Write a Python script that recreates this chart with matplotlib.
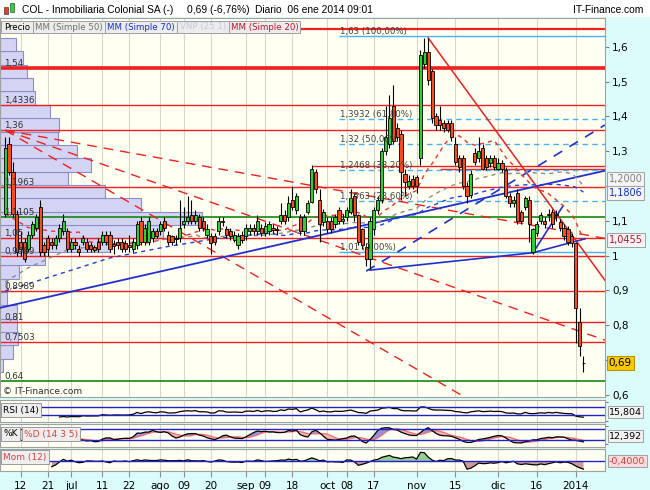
import numpy as np
import pandas as pd
import matplotlib
matplotlib.use("Agg")
import matplotlib.pyplot as plt
from matplotlib.patches import Rectangle
from matplotlib.transforms import blended_transform_factory

plt.rcParams['font.family'] = ['DejaVu Sans']

W, H = 650, 490

# trading days shown (BME closed 25-26 dic and 1 ene)
holidays = ["2013-12-25", "2013-12-26", "2014-01-01"]
dates = pd.bdate_range("2013-06-06", "2014-01-06")
dates = dates[~dates.isin(pd.to_datetime(holidays))]

opens = [1.12, 1.32, 1.24, 1.12, 1.04, 1.04, 1.02, 1.06, 1.08, 1.14,
         1.03, 1.05, 1.04, 1.03, 1.05, 1.07, 1.07, 1.02, 1.04, 1.02,
         1.04, 1.04, 1.03, 1.025, 1.04, 1.04, 1.06, 1.06, 1.032, 1.04,
         1.04, 1.035, 1.03, 1.02, 1.03, 1.10, 1.04, 1.04, 1.05, 1.07,
         1.07, 1.10, 1.06, 1.055, 1.05, 1.05, 1.09, 1.10, 1.115, 1.10,
         1.11, 1.10, 1.06, 1.055, 1.055, 1.07, 1.10, 1.075, 1.07, 1.045,
         1.03, 1.06, 1.055, 1.07, 1.08, 1.07, 1.08, 1.065, 1.07, 1.08,
         1.073, 1.10, 1.115, 1.11, 1.16, 1.13, 1.11, 1.07, 1.125, 1.155,
         1.24, 1.16, 1.095, 1.10, 1.10, 1.09, 1.13, 1.10, 1.11, 1.125,
         1.17, 1.115, 1.075, 1.025, 0.99, 1.075, 1.13, 1.16, 1.30, 1.32,
         1.43, 1.365, 1.35, 1.235, 1.20, 1.22, 1.225, 1.28, 1.55, 1.585,
         1.53, 1.40, 1.39, 1.38, 1.38, 1.38, 1.32, 1.28, 1.28, 1.20,
         1.175, 1.295, 1.28, 1.31, 1.28, 1.265, 1.28, 1.25, 1.265, 1.245,
         1.17, 1.15, 1.18, 1.125, 1.14, 1.16, 1.01, 1.065, 1.10, 1.10,
         1.115, 1.125, 1.12, 1.095, 1.08, 1.075, 1.055, 1.035, 0.81, 0.69]
highs = [1.34, 1.34, 1.27, 1.13, 1.07, 1.05, 1.07, 1.10, 1.12, 1.16,
         1.04, 1.06, 1.05, 1.06, 1.09, 1.12, 1.08, 1.05, 1.05, 1.03,
         1.06, 1.05, 1.04, 1.03, 1.05, 1.07, 1.07, 1.07, 1.045, 1.05,
         1.05, 1.045, 1.06, 1.05, 1.10, 1.11, 1.09, 1.11, 1.08, 1.08,
         1.10, 1.11, 1.07, 1.06, 1.06, 1.16, 1.14, 1.17, 1.16, 1.13,
         1.12, 1.11, 1.09, 1.065, 1.065, 1.11, 1.11, 1.085, 1.08, 1.07,
         1.065, 1.07, 1.09, 1.09, 1.09, 1.115, 1.09, 1.095, 1.10, 1.09,
         1.085, 1.15, 1.13, 1.17, 1.20, 1.18, 1.12, 1.12, 1.16, 1.26,
         1.25, 1.19, 1.135, 1.11, 1.11, 1.12, 1.14, 1.12, 1.14, 1.19,
         1.18, 1.12, 1.08, 1.035, 1.11, 1.14, 1.17, 1.31, 1.43, 1.46,
         1.49, 1.38, 1.36, 1.25, 1.23, 1.23, 1.23, 1.59, 1.625, 1.625,
         1.535, 1.41, 1.43, 1.39, 1.39, 1.39, 1.34, 1.29, 1.29, 1.21,
         1.245, 1.31, 1.34, 1.32, 1.29, 1.29, 1.29, 1.28, 1.275, 1.255,
         1.18, 1.17, 1.19, 1.13, 1.17, 1.17, 1.08, 1.10, 1.125, 1.11,
         1.135, 1.135, 1.13, 1.105, 1.09, 1.085, 1.065, 1.04, 0.85, 0.71]
lows = [1.11, 1.23, 1.11, 1.00, 1.00, 0.98, 1.01, 1.05, 1.07, 1.00,
        1.00, 1.00, 1.02, 1.02, 1.04, 1.06, 1.01, 1.01, 1.02, 1.00,
        1.03, 1.01, 1.01, 1.01, 1.01, 1.03, 1.03, 1.01, 1.005, 1.02,
        1.01, 1.01, 1.01, 1.01, 1.02, 1.03, 1.03, 1.03, 1.04, 1.05,
        1.06, 1.07, 1.03, 1.03, 1.03, 1.04, 1.08, 1.09, 1.09, 1.09,
        1.07, 1.07, 1.05, 1.005, 1.03, 1.06, 1.085, 1.05, 1.045, 1.04,
        1.02, 1.035, 1.045, 1.06, 1.06, 1.06, 1.055, 1.055, 1.06, 1.065,
        1.06, 1.09, 1.09, 1.10, 1.13, 1.12, 1.06, 1.06, 1.12, 1.15,
        1.18, 1.04, 1.085, 1.065, 1.065, 1.08, 1.09, 1.09, 1.10, 1.12,
        1.10, 1.03, 1.02, 0.97, 0.96, 1.06, 1.12, 1.15, 1.29, 1.31,
        1.32, 1.33, 1.16, 1.17, 1.19, 1.19, 1.18, 1.26, 1.54, 1.49,
        1.38, 1.36, 1.36, 1.355, 1.355, 1.33, 1.26, 1.24, 1.19, 1.15,
        1.165, 1.26, 1.27, 1.245, 1.245, 1.255, 1.245, 1.245, 1.24, 1.165,
        1.14, 1.14, 1.09, 1.09, 1.13, 1.04, 1.005, 1.055, 1.09, 1.08,
        1.10, 1.08, 1.10, 1.07, 1.045, 1.03, 1.025, 0.75, 0.71, 0.665]
closes = [1.31, 1.24, 1.12, 1.01, 1.02, 0.99, 1.06, 1.09, 1.11, 1.01,
          1.01, 1.02, 1.03, 1.05, 1.08, 1.10, 1.02, 1.04, 1.03, 1.01,
          1.05, 1.02, 1.02, 1.015, 1.02, 1.06, 1.04, 1.02, 1.028, 1.03,
          1.02, 1.02, 1.025, 1.04, 1.09, 1.04, 1.08, 1.10, 1.07, 1.055,
          1.09, 1.08, 1.04, 1.04, 1.048, 1.08, 1.10, 1.11, 1.10, 1.115,
          1.08, 1.08, 1.075, 1.035, 1.04, 1.10, 1.095, 1.06, 1.055, 1.06,
          1.055, 1.045, 1.08, 1.08, 1.07, 1.10, 1.065, 1.085, 1.09, 1.073,
          1.075, 1.115, 1.10, 1.15, 1.14, 1.17, 1.07, 1.11, 1.15, 1.25,
          1.19, 1.09, 1.125, 1.075, 1.075, 1.11, 1.10, 1.105, 1.13, 1.165,
          1.115, 1.04, 1.03, 0.99, 1.10, 1.13, 1.16, 1.30, 1.34, 1.395,
          1.33, 1.34, 1.24, 1.21, 1.215, 1.20, 1.20, 1.575, 1.585, 1.505,
          1.395, 1.375, 1.375, 1.365, 1.36, 1.34, 1.27, 1.255, 1.20, 1.17,
          1.235, 1.27, 1.30, 1.25, 1.255, 1.28, 1.255, 1.265, 1.25, 1.17,
          1.15, 1.16, 1.10, 1.10, 1.165, 1.09, 1.075, 1.09, 1.115, 1.09,
          1.12, 1.09, 1.115, 1.08, 1.055, 1.04, 1.035, 0.85, 0.74, 0.69]

# moving averages: start of the lines (history before the window)
ma20_lead_x = [0, 6, 12, 18]
ma20_lead = [1.12, 1.08, 1.07, 1.066]
ma50_lead_x = [0, 6, 16, 27, 40, 48]
ma50_lead = [0.924, 0.965, 1.016, 1.033, 1.045, 1.055]
ma70_lead_x = [0, 10, 27, 41, 55, 68]
ma70_lead = [0.898, 0.933, 0.993, 1.024, 1.050, 1.064]
ma_last_labels = [1.2000, 1.1806, 1.0455]

# volume at price (VNP 25 1), relative volume per bin from bottom to top
vnp_volume = [3.3, 13.3, 18.3, 17.3, 16.7, 7.3, 7.3, 19.3, 45, 110, 163, 202,
              141, 105, 68, 91, 77, 58, 59, 50, 35, 33, 27, 23, 16]

red_levels = [1.65, 1.54, 1.4336, 1.36, 1.1963, 1.05, 0.9989, 0.8989, 0.81, 0.7503]
green_levels = [1.1105, 0.64]
labeled_levels = [1.54, 1.4336, 1.36, 1.1963, 1.1105, 1.05, 0.9989, 0.8989, 0.81, 0.7503, 0.64]
partial_levels = [1.2578, 1.249]
partial_start = [79, 112]

fib_prices = [1.63, 1.3932, 1.32, 1.2468, 1.1563, 1.01]
fib_pcts = [100.0, 61.8, 50.0, 38.2, 23.6, 0.0]
fib_start = 86

# trend lines, anchors as (bar, price)
red_trend = [(109, 1.625), (140.4, 1.145)]
fan_origin = (0, 1.36)
fan_through = [(84.5, 1.19), (154.5, 0.757), (117.2, 0.601)]
blue_channel = [(0, 0.853), (140, 1.207)]
blue_dashed = [(93, 0.955), (154.5, 1.375)]
blue_base = [(94, 0.958), (136, 1.008), (149.4, 1.048)]
blue_steep = [(136, 1.008), (143.7, 1.142)]

tick_dates = ["2013-06-12", "2013-06-21", "2013-07-01", "2013-07-11", "2013-07-22",
              "2013-08-01", "2013-08-09", "2013-08-20", "2013-09-02", "2013-09-09",
              "2013-09-18", "2013-10-01", "2013-10-08", "2013-10-17", "2013-11-01",
              "2013-11-15", "2013-12-02", "2013-12-16", "2014-01-02"]
tick_labels = ["12", "21", "jul", "11", "22", "ago", "09", "20", "sep", "09",
               "18", "oct", "08", "17", "nov", "15", "dic", "16", "2014"]

panel_values = ["15,804", "12,392", "-0,4000"]


def es(v):
    return f"{v:.4f}".rstrip('0').rstrip('.').replace('.', ',')


def box(x0, y0, x1, y1):
    return [x0 / W, 1 - y1 / H, (x1 - x0) / W, (y1 - y0) / H]


x = np.arange(len(dates))
o, h, l, c = (np.array(a) for a in (opens, highs, lows, closes))
cs = pd.Series(closes)

# indicators
delta = cs.diff()
gain = delta.clip(lower=0).ewm(alpha=1 / 14, adjust=False, min_periods=14).mean()
loss = (-delta.clip(upper=0)).ewm(alpha=1 / 14, adjust=False, min_periods=14).mean()
rsi = 100 - 100 / (1 + gain / loss)
ll = pd.Series(lows).rolling(14).min()
hh = pd.Series(highs).rolling(14).max()
k = (100 * (cs - ll) / (hh - ll)).rolling(3).mean()
d = k.rolling(5).mean()
mom = cs - cs.shift(12)

xmin, xmax = -1.33, 154.55
bg = '#fffff2'
fig = plt.figure(figsize=(6.5, 4.9), dpi=100, facecolor='#dcfcfc')
fig.patches.append(Rectangle((0, 1 - 17 / H), 1, 17 / H, transform=fig.transFigure,
                             facecolor='white', edgecolor='none', zorder=0))

ax = fig.add_axes(box(0, 18, 605, 397))
ax_rsi = fig.add_axes(box(0, 400, 605, 422), sharex=ax)
ax_sto = fig.add_axes(box(0, 424, 605, 447), sharex=ax)
ax_mom = fig.add_axes(box(0, 449, 605, 471), sharex=ax)

tick_pos = [dates.get_loc(pd.Timestamp(t)) for t in tick_dates]
for a in (ax, ax_rsi, ax_sto, ax_mom):
    a.set_facecolor(bg)
    for s in a.spines.values():
        s.set_color('#a0a0a0')
        s.set_linewidth(0.8)
    a.set_axisbelow(True)
    a.grid(axis='x', color='#d8d8c6', lw=0.8)
    a.tick_params(axis='x', labelbottom=False, length=0)
    a.yaxis.tick_right()
ax.set_xlim(xmin, xmax)
ax.set_xticks(tick_pos)

# ---- main price panel
ax.set_ylim(0.5934, 1.6825)
yt = np.round(np.arange(0.6, 1.61, 0.1), 1)
ax.set_yticks(yt)
# 0,7 and 1,2 sit behind the value boxes on the original
ax.set_yticklabels(['' if v in (0.7, 1.2) else f"{v:g}".replace('.', ',') for v in yt])
ax.tick_params(axis='y', labelsize=7.5, length=3, color='#808080', pad=2)

vt = blended_transform_factory(ax.transAxes, ax.transData)
edges = np.linspace(min(lows), max(highs), len(vnp_volume) + 1)
vscale = (202.3 / 605) / max(vnp_volume)
ax.barh(edges[:-1], np.array(vnp_volume) * vscale, height=np.diff(edges), align='edge',
        left=0, transform=vt, color='#d3d3f3', edgecolor='#8c8cca', lw=0.8, zorder=1)

for v in red_levels:
    ax.axhline(v, color='#ee2020', lw=2.6 if v == 1.54 else (1.6 if v == 1.65 else 1.0), zorder=2)
for v in green_levels:
    ax.axhline(v, color='#108a10', lw=1.2, zorder=2)
for v, s in zip(partial_levels, partial_start):
    ax.hlines(v, s, xmax, color='#ee2020', lw=1.0, zorder=2)
for v in labeled_levels:
    ax.text(4 / 605, v, es(v), transform=vt, fontsize=6.3, color='#303030',
            va='bottom', ha='left', zorder=6)

for p, pct in zip(fib_prices, fib_pcts):
    ls = '-' if pct in (0.0, 100.0) else (0, (4, 3))
    ax.hlines(p, fib_start, xmax, color='#46b2f0', lw=1.0, linestyles=ls, zorder=2)
    ax.text(fib_start + 0.3, p, f"{es(p)} ({pct:.2f}%)".replace('.', ','), fontsize=6.2,
            color='#404040', va='bottom', ha='left', zorder=6)


def extend(p0, p1, x_end):
    slope = (p1[1] - p0[1]) / (p1[0] - p0[0])
    return [p0[0], x_end], [p0[1], p0[1] + slope * (x_end - p0[0])]


ax.plot(*extend(red_trend[0], red_trend[1], xmax), color='#f02020', lw=1.1, zorder=3)
for p1 in fan_through:
    ax.plot(*extend(fan_origin, p1, xmax), color='#f02020', lw=1.0,
            linestyle=(0, (7, 5)), zorder=3)
bx, by = extend(blue_channel[0], blue_channel[1], xmax)
bx0, by0 = extend(blue_channel[1], blue_channel[0], xmin)
ax.plot([bx0[1], bx[1]], [by0[1], by[1]], color='#2030d0', lw=1.3, zorder=3)
ax.plot([p[0] for p in blue_dashed], [p[1] for p in blue_dashed], color='#2030d0',
        lw=1.2, linestyle=(0, (6, 5)), zorder=3)
ax.plot([p[0] for p in blue_base], [p[1] for p in blue_base], color='#2030d0', lw=1.2, zorder=3)
ax.plot([p[0] for p in blue_steep], [p[1] for p in blue_steep], color='#2030d0', lw=1.2, zorder=3)

# moving averages
for lead_x, lead, n, col in [(ma20_lead_x, ma20_lead, 20, '#f03030'),
                             (ma50_lead_x, ma50_lead, 50, '#8c8c8c'),
                             (ma70_lead_x, ma70_lead, 70, '#2040e0')]:
    sma = cs.rolling(n).mean()
    mx = np.concatenate([lead_x, x[n - 1:]])
    my = np.concatenate([lead, sma.values[n - 1:]])
    ax.plot(mx, my, color=col, lw=1.0, linestyle=(0, (3, 3)), zorder=3)

# candles
body_lo = np.minimum(o, c)
body_h = np.abs(c - o)
colors = np.where(c >= o, '#2bd22b', '#fa4b1a')
ax.vlines(x, l, h, color='black', lw=0.8, zorder=4)
ax.bar(x, body_h, bottom=body_lo, width=0.82, color=colors, edgecolor='black',
       linewidth=0.6, zorder=5)

ax.text(3 / 605, (397 - 391) / 379, "\u00a9 IT-Finance.com", transform=ax.transAxes,
        fontsize=6.5, color='#303030', va='center', ha='left')

# value boxes on the price scale
for v, tc, dy in zip(ma_last_labels, ['#808080', '#1030d0', '#c8102e'], [0.02, 0, 0]):
    ax.text(1.006, v + dy, f"{v:.4f}".replace('.', ','), transform=vt, fontsize=7, color=tc,
            va='center', ha='left', clip_on=False, zorder=10,
            bbox=dict(boxstyle='square,pad=0.2', fc='#f4f4f4', ec='#a0a0a0', lw=0.7))
ax.text(1.006, closes[-1], es(closes[-1]), transform=vt, fontsize=7.5, color='black',
        va='center', ha='left', clip_on=False, zorder=10,
        bbox=dict(boxstyle='square,pad=0.2', fc='#f8c800', ec='#b09000', lw=0.7))

# ---- RSI
ax_rsi.set_ylim(-6, 108)
ax_rsi.plot(x, rsi, color='black', lw=0.9)
for v in (70, 30):
    ax_rsi.axhline(v, color='#2020cc', lw=1.0)
# ---- Stochastic
ax_sto.set_ylim(-16, 109)
ax_sto.fill_between(x, k, d, where=(k >= d), color='#9494dc', interpolate=True, lw=0)
ax_sto.fill_between(x, k, d, where=(k < d), color='#f4b4b4', interpolate=True, lw=0)
ax_sto.plot(x, d, color='#ff6a6a', lw=0.9)
ax_sto.plot(x, k, color='black', lw=0.9)
for v in (80, 20):
    ax_sto.axhline(v, color='#2020cc', lw=1.0)
for a in (ax_rsi, ax_sto):
    # the 0 / 100 scale marks are hidden behind the value boxes on the original
    a.set_yticks([0, 100])
    a.tick_params(axis='y', labelright=False, length=2, color='#808080')
# ---- Momentum
ax_mom.set_ylim(-0.495, 0.61)
ax_mom.fill_between(x, mom, 0, where=(mom >= 0), color='#96cc96', interpolate=True, lw=0)
ax_mom.fill_between(x, mom, 0, where=(mom < 0), color='#cc9c9c', interpolate=True, lw=0)
ax_mom.plot(x, mom, color='black', lw=0.9)
ax_mom.axhline(0, color='#2020cc', lw=1.0)
ax_mom.set_yticks([])
ax_mom.set_xticks(tick_pos)
ax_mom.set_xticklabels(tick_labels)
ax_mom.tick_params(axis='x', labelbottom=True, labelsize=7.5, length=4, color='#909090', pad=3)

# panel captions
bb = dict(boxstyle='square,pad=0.25', fc='#eeeeee', ec='#9a9a9a', lw=0.7)
fig.text(3 / W, 1 - 410 / H, "RSI (14)", fontsize=6.5, va='center', bbox=bb)
fig.text(3 / W, 1 - 434 / H, "%K", fontsize=6.5, va='center', bbox=bb)
fig.text(24 / W, 1 - 434 / H, "%D (14 3 5)", fontsize=6.5, va='center', color='#e04040', bbox=bb)
fig.text(3 / W, 1 - 457 / H, "Mom (12)", fontsize=6.5, va='center', color='#e04040', bbox=bb)
for yy, t, tc, fc in zip([412, 436, 461], panel_values, ['black', 'black', '#d04040'],
                         ['#f2f2f2', '#f2f2f2', '#fadada']):
    fig.text(609 / W, 1 - yy / H, t, fontsize=6.8, va='center', color=tc,
             bbox=dict(boxstyle='square,pad=0.12', fc=fc, ec='#a0a0a0', lw=0.7))

# legend row
legend_items = [("Precio", "black"), ("MM (Simple 50)", "#707070"), ("MM (Simple 70)", "#1030d0"),
                ("VNP (25 1)", "#c4c4ee"), ("MM (Simple 20)", "#c8102e")]
legend_edges = [1, 33, 105, 177, 229, 300]
for (t, col), x0, x1 in zip(legend_items, legend_edges[:-1], legend_edges[1:]):
    fig.patches.append(Rectangle((x0 / W, 1 - 33 / H), (x1 - x0) / W, 12 / H,
                                 transform=fig.transFigure, fc='#ececec', ec='#a0a0a0',
                                 lw=0.7, zorder=5))
    fig.text((x0 + x1) / 2 / W, 1 - 27 / H, t, fontsize=6.2, color=col,
             ha='center', va='center', zorder=6)

# title bar
fig.patches.append(Rectangle((4 / W, 1 - 14 / H), 4 / W, 7 / H, transform=fig.transFigure,
                             fc='#e04030', ec='#603030', lw=0.5, zorder=2))
fig.patches.append(Rectangle((10 / W, 1 - 12 / H), 4 / W, 9 / H, transform=fig.transFigure,
                             fc='#30d030', ec='#306030', lw=0.5, zorder=2))
tf = ['Liberation Sans', 'DejaVu Sans']
fig.text(22 / W, 1 - 10 / H, "COL - Inmobiliaria Colonial SA (-)", fontsize=7.4, va='center', family=tf)
fig.text(187 / W, 1 - 10 / H, "0,69 (-6,76%)", fontsize=7.4, va='center', family=tf)
fig.text(255 / W, 1 - 10 / H, "Diario  06 ene 2014 09:01", fontsize=7.4, va='center', family=tf)
fig.text(643 / W, 1 - 10 / H, "IT-Finance.com", fontsize=7.4, va='center', ha='right', family=tf)

fig.savefig("out.png", dpi=100, facecolor=fig.get_facecolor())
